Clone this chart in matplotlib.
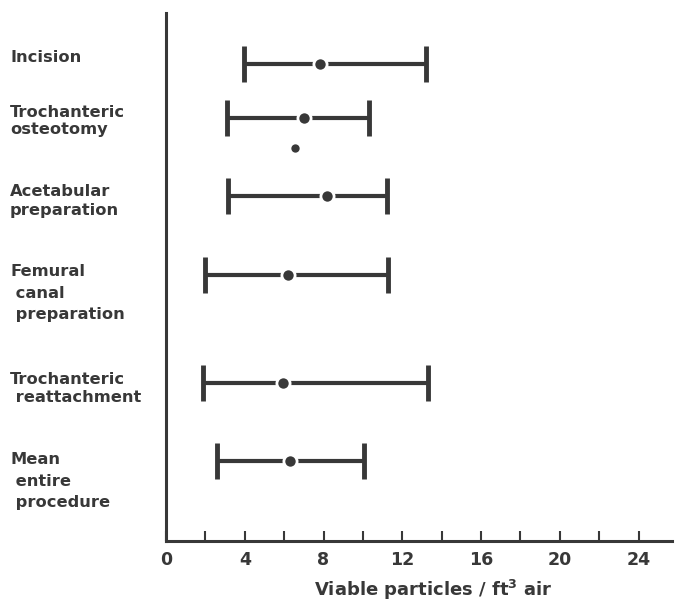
import numpy as np
import matplotlib.pyplot as plt

plt.rcParams['font.family'] = ['DejaVu Sans']
plt.rcParams['font.weight'] = 'bold'

# viable particle counts per stage: low, mean, high
stages = ['Incision', 'Trochanteric\nosteotomy', 'Acetabular\npreparation',
          'Femural\n canal\n preparation', 'Trochanteric\n reattachment',
          'Mean\n entire\n procedure']
low = [3.95, 3.1, 3.15, 2.0, 1.9, 2.6]
mean = [7.8, 7.0, 8.2, 6.2, 5.95, 6.3]
high = [13.2, 10.3, 11.2, 11.3, 13.3, 10.05]
# lone reading under the osteotomy row
extra_x = [6.55]
extra_y = [1.08]

row_pos = np.array([0, 0.69, 1.69, 2.71, 4.09, 5.09])
label_y_px = [57, 121, 201, 293, 389, 481]
label_ls = [1.2, 1.15, 1.25, 1.5, 1.25, 1.5]

ink = '#383838'
W, H = 675, 602
fig = plt.figure(figsize=(W / 100, H / 100), dpi=100)
ax = fig.add_axes([166 / W, (H - 541) / H, (672 - 166) / W, (541 - 13) / H])

m = np.array(mean)
err = [m - np.array(low), np.array(high) - m]
ax.errorbar(m, row_pos, xerr=err, fmt='none', ecolor=ink, elinewidth=3,
            capsize=13, capthick=3.5)
ax.plot(m, row_pos, 'o', ms=9.5, mfc=ink, mec='white', mew=2, zorder=3)
ax.plot(extra_x, extra_y, 'o', ms=6, mfc=ink, mec='none')

ax.set_xlim(0, 25.7)
ax.set_ylim(6.115, -0.654)
ax.set_xticks(np.arange(0, 25, 4))
ax.set_xticks(np.arange(0, 25, 2), minor=True)
ax.tick_params(axis='x', which='both', direction='in', length=7, width=1.5,
               color=ink, labelsize=12.5, labelcolor=ink, pad=7)
ax.set_yticks([])
for s in ['top', 'right']:
    ax.spines[s].set_visible(False)
for s in ['left', 'bottom']:
    ax.spines[s].set_linewidth(2.2)
    ax.spines[s].set_color(ink)

for text, ypx, ls in zip(stages, label_y_px, label_ls):
    fig.text(10 / W, 1 - ypx / H, text, ha='left', va='center', fontsize=11.7,
             color=ink, linespacing=ls)

fig.text(433 / W, 1 - 590 / H, 'Viable particles / ft$^\\mathbf{3}$ air',
         ha='center', va='center', fontsize=13, color=ink)

fig.savefig('out.png', dpi=100)
